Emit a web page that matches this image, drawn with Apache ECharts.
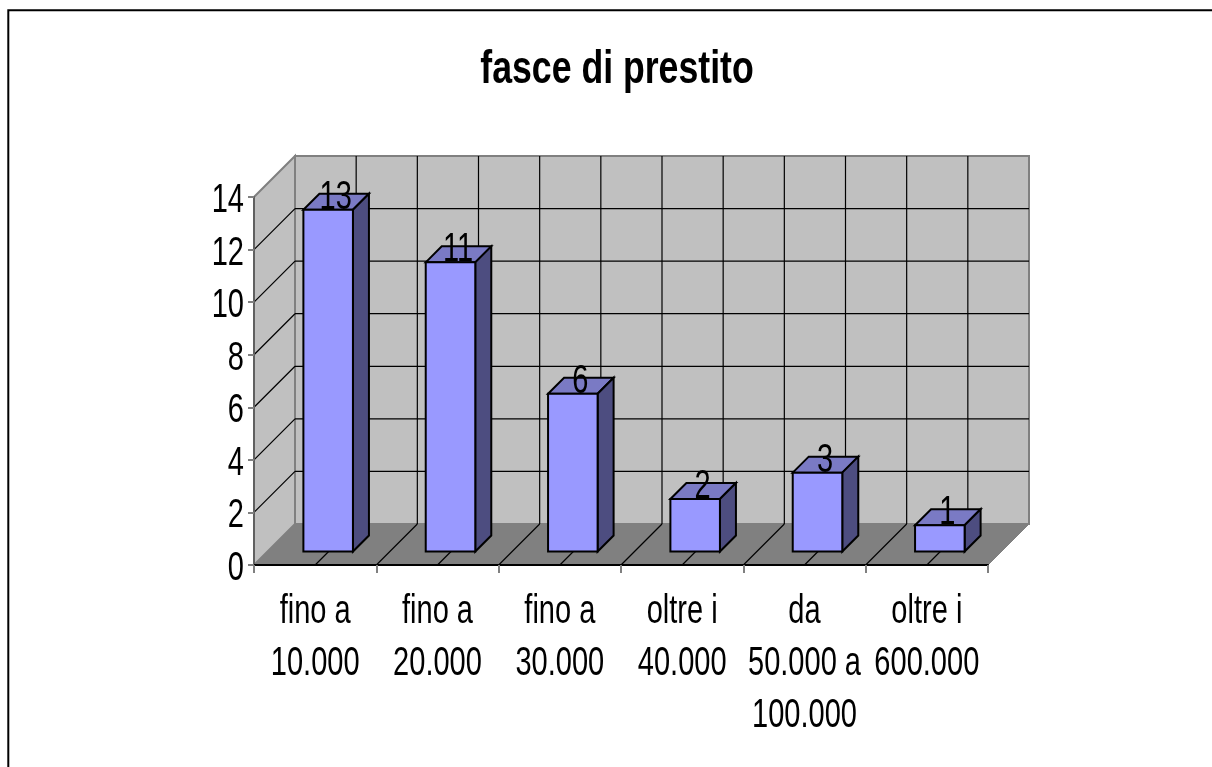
<!DOCTYPE html>
<html>
<head>
<meta charset="utf-8">
<title>fasce di prestito</title>
<script src="https://cdn.jsdelivr.net/npm/echarts@6/dist/echarts.min.js"></script>
<style>
html, body { margin: 0; padding: 0; background: #fff; }
#main { width: 1212px; height: 767px; }
</style>
</head>
<body>
<div id="main"></div>
<script>
var categories = ['fino a\n10.000', 'fino a\n20.000', 'fino a\n30.000', 'oltre i\n40.000', 'da\n50.000 a\n100.000', 'oltre i\n600.000'];
var values = [13, 11, 6, 2, 3, 1];
var yTicks = [0, 2, 4, 6, 8, 10, 12, 14];
var chartTitle = 'fasce di prestito';

var fontName = '"Liberation Sans", Arial, sans-serif';
var textScale = 0.726; // il testo dell'originale e' schiacciato in orizzontale
var depth = 41;        // spostamento della parete di fondo
var barDepth = 16;     // profondita della barra
var barShiftX = 13;    // barra staccata dal bordo anteriore
var barShiftY = 13.5;
var barRatio = 0.405;

var chart = echarts.init(document.getElementById('main'));

function poly(points, fill, stroke, width) {
    return {
        type: 'polygon',
        shape: { points: points },
        style: { fill: fill, stroke: stroke, lineWidth: width, lineJoin: 'miter' }
    };
}

function line(x1, y1, x2, y2, color, width) {
    return {
        type: 'line',
        shape: { x1: x1, y1: y1, x2: x2, y2: y2 },
        style: { stroke: color, lineWidth: width, fill: null }
    };
}

function squeezedText(x, y, text, align, vAlign) {
    return {
        type: 'text',
        x: x,
        y: y,
        scaleX: textScale,
        style: {
            x: 0,
            y: 0,
            text: text,
            fill: '#000',
            font: '40px ' + fontName,
            lineHeight: 52,
            align: align,
            verticalAlign: vAlign
        }
    };
}

// pareti, pavimento, griglia ed etichette degli assi
function renderWalls(params, api) {
    var n = categories.length;
    var origin = api.coord([0, 0]);
    var band = api.size([1, 0])[0];
    var x0 = origin[0] - band / 2;
    var y0 = origin[1];
    var yTop = api.coord([0, 14])[1];
    var x1 = x0 + band * n;
    var kids = [];

    kids.push(poly([[x0 + depth, yTop - depth], [x1 + depth, yTop - depth], [x1 + depth, y0 - depth], [x0 + depth, y0 - depth]], '#c0c0c0', '#808080', 2));
    kids.push(poly([[x0, yTop], [x0 + depth, yTop - depth], [x0 + depth, y0 - depth], [x0, y0]], '#c0c0c0', '#808080', 2));
    kids.push(poly([[x0, y0], [x0 + depth, y0 - depth], [x1 + depth, y0 - depth], [x1, y0]], '#808080', '#808080', 1));

    for (var i = 1; i < yTicks.length - 1; i++) {
        var y = api.coord([0, yTicks[i]])[1];
        kids.push(line(x0, y, x0 + depth, y - depth, '#000', 1.2));
        kids.push(line(x0 + depth, y - depth, x1 + depth, y - depth, '#000', 1.2));
    }
    for (var k = 1; k < n * 2; k++) {
        var x = x0 + band / 2 * k;
        kids.push(line(x, y0, x + depth, y0 - depth, '#000', 1.2));
        kids.push(line(x + depth, y0 - depth, x + depth, yTop - depth, '#000', 1.2));
    }
    for (var t = 0; t < yTicks.length; t++) {
        kids.push(squeezedText(x0 - 10, api.coord([0, yTicks[t]])[1] + 4, String(yTicks[t]), 'right', 'middle'));
    }
    for (var c = 0; c < n; c++) {
        kids.push(squeezedText(api.coord([c, 0])[0], y0 + 21, categories[c], 'center', 'top'));
    }
    return { type: 'group', children: kids };
}

// barra 3D con etichetta del valore
function renderBar(params, api) {
    var idx = api.value(0);
    var val = api.value(1);
    var top = api.coord([idx, val]);
    var base = api.coord([idx, 0]);
    var w = api.size([1, 0])[0] * barRatio;
    var l = top[0] + barShiftX - w / 2;
    var r = l + w;
    var t = top[1] - barShiftY;
    var b = base[1] - barShiftY;
    var d = barDepth;
    return {
        type: 'group',
        children: [
            poly([[l, t], [l + d, t - d], [r + d, t - d], [r, t]], '#7a7ac4', '#000', 2),
            poly([[r, t], [r + d, t - d], [r + d, b - d], [r, b]], '#4d4d80', '#000', 2),
            poly([[l, t], [r, t], [r, b], [l, b]], '#9999ff', '#000', 2),
            squeezedText(l + w / 2 + 7.5, t - 12, String(val), 'center', 'middle')
        ]
    };
}

var barData = [];
for (var i = 0; i < values.length; i++) {
    barData.push([i, values[i]]);
}

chart.setOption({
    animation: false,
    backgroundColor: '#fff',
    graphic: [{
        type: 'polyline',
        silent: true,
        shape: { points: [[8.3, 767], [8.3, 10.3], [1212, 10.3]] },
        style: { stroke: '#000', lineWidth: 2, fill: null }
    }, {
        type: 'text',
        silent: true,
        x: 617,
        y: 70,
        scaleX: 0.775,
        style: {
            x: 0,
            y: 0,
            text: chartTitle,
            fill: '#000',
            font: 'bold 46px ' + fontName,
            align: 'center',
            verticalAlign: 'middle'
        }
    }],
    grid: { left: 254, right: 224, top: 197, bottom: 202 },
    xAxis: {
        type: 'category',
        data: categories,
        z: 3,
        axisLine: { lineStyle: { color: '#000', width: 2 } },
        axisTick: { show: true, length: 8, lineStyle: { color: '#808080', width: 2 } },
        axisLabel: { show: false },
        splitLine: { show: false }
    },
    yAxis: {
        type: 'value',
        min: 0,
        max: 14,
        interval: 2,
        z: 3,
        axisLine: { show: true, lineStyle: { color: '#606060', width: 2 } },
        axisTick: { show: true, length: 6, lineStyle: { color: '#808080', width: 2 } },
        axisLabel: { show: false },
        splitLine: { show: false }
    },
    series: [
        {
            type: 'custom',
            z: 1,
            clip: false,
            renderItem: renderWalls,
            data: [[0, 0]],
            silent: true
        },
        {
            type: 'custom',
            z: 2,
            clip: false,
            renderItem: renderBar,
            encode: { x: 0, y: 1 },
            data: barData
        }
    ]
});
</script>
</body>
</html>
